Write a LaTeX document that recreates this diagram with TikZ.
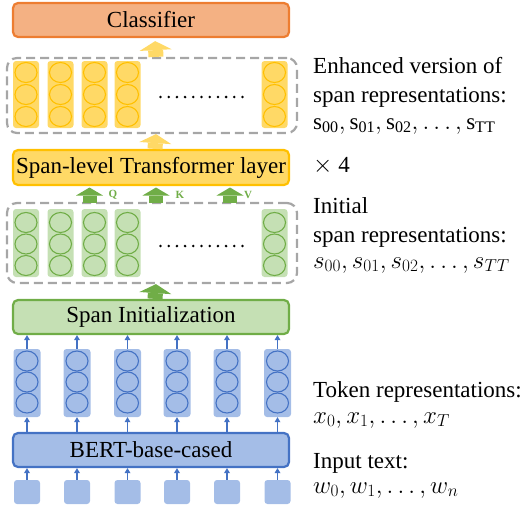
\documentclass[tikz,border=0pt]{standalone}
\usepackage{fontspec}
\setmainfont{Liberation Serif}
\usetikzlibrary{arrows.meta,shapes.geometric}
\definecolor{orF}{HTML}{F4B183}
\definecolor{orD}{HTML}{ED7D31}
\definecolor{yF}{HTML}{FFD966}
\definecolor{yD}{HTML}{FFC000}
\definecolor{yA}{HTML}{FFD966}
\definecolor{gF}{HTML}{C5E0B4}
\definecolor{gD}{HTML}{70AD47}
\definecolor{bF}{HTML}{A4BDE7}
\definecolor{bD}{HTML}{4472C4}
\definecolor{dgray}{HTML}{A6A6A6}
\begin{document}
\begin{tikzpicture}[x=1pt,y=-1pt,
  box/.style={draw, line width=2.2pt, rounded corners=5pt, minimum width=276pt, minimum height=34pt, inner sep=0pt, font=\fontsize{23}{27}\selectfont},
  dbox/.style={draw=dgray, line width=2.2pt, dash pattern=on 9pt off 5pt, rounded corners=10pt, minimum width=290pt, inner sep=0pt},
  col/.style={rounded corners=3pt, minimum width=26pt, minimum height=67pt, inner sep=0pt},
  cir/.style={ellipse, draw, line width=1.1pt, minimum width=22pt, minimum height=20pt, inner sep=0pt},
  sq/.style={fill=bF, rounded corners=3pt, minimum width=26pt, minimum height=24pt, inner sep=0pt},
  barr/.style={line width=15pt, -{Triangle[width=32pt,length=9pt,line width=0pt]}},
  qarr/.style={draw=gD, line width=14pt, -{Triangle[width=27pt,length=8pt,line width=0pt]}},
  tarr/.style={draw=bD, line width=1.4pt, -{Triangle[width=6pt,length=5pt,line width=0pt]}},
  side/.style={anchor=base west, inner sep=0pt, font=\fontsize{23}{27}\selectfont},
  qkv/.style={text=gD, font=\fontsize{11}{12}\selectfont\bfseries, inner sep=0pt}
]
\useasboundingbox (0,0) rectangle (532,509);

% main boxes
\node[box, fill=orF, draw=orD] (cls) at (151,20) {Classifier};
\node[box, fill=yF, draw=yD, minimum height=35pt] (trans) at (151,167.5) {Span-level Transformer layer};
\node[box, fill=gF, draw=gD] (init) at (151,317) {Span Initialization};
\node[box, fill=bF, draw=bD] (bert) at (151,450) {BERT-base-cased};

% dashed boxes
\node[dbox, minimum height=75pt] (d1) at (152,95.5) {};
\node[dbox, minimum height=80pt] (d2) at (152,243) {};

% yellow columns
\foreach \x [count=\i] in {26,60.5,94.5,127.5,274.5} {
  \node[col, fill=yF] (yc\i) at (\x,94.5) {};
  \foreach \dy [count=\j] in {-22,0,22}
    \node[cir, draw=yD] (ye\i\j) at (\x,94.5+\dy) {};
}
% green columns
\foreach \x [count=\i] in {26,60.5,94.5,127.5,274.5} {
  \node[col, fill=gF, minimum height=68pt] (gc\i) at (\x,243) {};
  \foreach \dy [count=\j] in {-21.5,0,21.5}
    \node[cir, draw=gD] (ge\i\j) at (\x,244+\dy) {};
}
% dots
\foreach \k in {0,...,10} {
  \fill (160.5+\k*8.2,97) circle (1.4);
  \fill (160.5+\k*8.2,246) circle (1.4);
}

% blue columns and input squares
\foreach \x [count=\i] in {27,77,127.5,177,227,277.5} {
  \node[col, fill=bF, minimum width=27pt, minimum height=68pt] (bc\i) at (\x,383) {};
  \foreach \dy [count=\j] in {-21,0,21}
    \node[cir, draw=bD] (be\i\j) at (\x,382+\dy) {};
  \node[sq] (s\i) at (\x,492) {};
  \draw[tarr] (bc\i.north) -- (bc\i.north |- init.south);
  \draw[tarr] (bc\i.south |- bert.north) -- (bc\i.south);
  \draw[tarr] (s\i.north) -- (s\i.north |- bert.south);
}

% block arrows
\draw[barr, draw=yA, shorten >=3pt] ([xshift=4pt]d1.north) -- ([xshift=4pt]cls.south);
\draw[barr, draw=yA] ([xshift=4pt]trans.north) -- ([xshift=4pt]d1.south);
\draw[barr, draw=gD] ([xshift=4pt]init.north) -- ([xshift=4pt]d2.south);
\draw[qarr, shorten >=2pt] (89.5,203) -- (89.5,185.5);
\draw[qarr, shorten >=2pt] (156,203) -- (156,185.5);
\draw[qarr, shorten >=2pt] (230,203) -- (230,185.5);
\node[qkv] (q) at (113,195) {Q};
\node[qkv] (k) at (180,195) {K};
\node[qkv] (v) at (248,195) {V};

% side labels
\node[side] (t1) at (313,73) {Enhanced version of};
\node[side] (t2) at (313,102) {span representations:};
\node[side] (t3) at (313,129) {$\mathrm{s}_{\mathrm{00}},\mathrm{s}_{\mathrm{01}},\mathrm{s}_{\mathrm{02}},\ldots,\mathrm{s}_{\mathrm{TT}}$};
\node[side] (t4) at (313,172) {$\times$ 4};
\node[side] (t5) at (313,213) {Initial};
\node[side] (t6) at (313,242) {span representations:};
\node[side] (t7) at (313,268) {$s_{00},s_{01},s_{02},\ldots,s_{TT}$};
\node[side] (t8) at (313,397) {Token representations:};
\node[side] (t9) at (313,423) {$x_0,x_1,\ldots,x_T$};
\node[side] (t10) at (313,468) {Input text:};
\node[side] (t11) at (313,493) {$w_0,w_1,\ldots,w_n$};
\end{tikzpicture}
\end{document}
